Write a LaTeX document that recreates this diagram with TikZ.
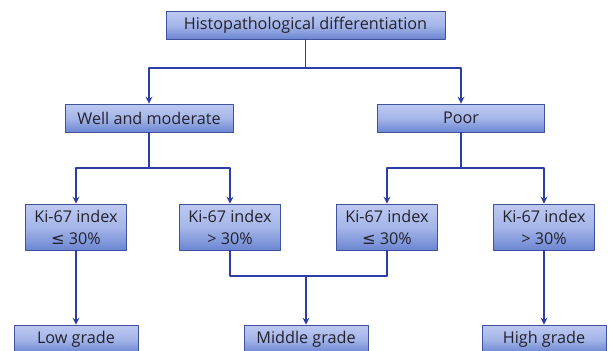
\documentclass[tikz,border=0pt]{standalone}
\usepackage{fontspec}
\setmainfont{Open Sans}
\newfontfamily\symfont{DejaVu Sans}
\usetikzlibrary{arrows.meta}
\definecolor{lineblue}{RGB}{42,62,165}
\definecolor{edgeblue}{RGB}{62,82,158}
\definecolor{boxtop}{RGB}{190,201,241}
\definecolor{boxmid}{RGB}{165,182,233}
\definecolor{boxbot}{RGB}{108,134,210}
\definecolor{textgray}{RGB}{35,35,45}
\newcommand{\lesym}{{\symfont\char"2264}}
\begin{document}
\begin{tikzpicture}[x=1pt, y=-1pt, line join=round, >={Stealth[length=7pt,width=7pt,inset=2.5pt]},
		box/.style={draw=edgeblue, line width=0.8pt, top color=boxtop, bottom color=boxbot, middle color=boxmid, text=textgray, font=\fontsize{16.2}{22}\selectfont, minimum height=28pt, inner sep=0pt},
		kibox/.style={box, minimum height=46pt, minimum width=101pt, align=center},
		link/.style={draw=lineblue, line width=1.8pt}]
			\useasboundingbox (0,0) rectangle (611,351);
			\def\ysplit{68}\def\ysub{168}\def\ymerge{276}
			% tree of boxes
			\node[box, minimum width=279pt] (hist) at (305.5,25) {Histopathological differentiation};
			\node[box, minimum width=168pt] (wm) at (149,118) {Well and moderate};
			\node[box, minimum width=167pt] (poor) at (461,118) {Poor};
			\node[kibox] (ki1) at (76,227) {Ki-67 index\\\lesym{} 30\%};
			\node[kibox] (ki2) at (230,227) {Ki-67 index\\> 30\%};
			\node[kibox] (ki3) at (387,227) {Ki-67 index\\\lesym{} 30\%};
			\node[kibox] (ki4) at (544,227) {Ki-67 index\\> 30\%};
			\node[box, minimum width=124pt] (low) at (76,339) {Low grade};
			\node[box, minimum width=124pt] (mid) at (306,339) {Middle grade};
			\node[box, minimum width=124pt] (high) at (544,339) {High grade};
			\coordinate (merge) at (306,\ymerge);
			% connectors
			\draw[link,->] (hist.south) |- (wm.north |- 0,\ysplit) -- (wm.north);
			\draw[link,->] (hist.south) |- (poor.north |- 0,\ysplit) -- (poor.north);
			\draw[link,->] (wm.south) |- (ki1.north |- 0,\ysub) -- (ki1.north);
			\draw[link,->] (wm.south) |- (ki2.north |- 0,\ysub) -- (ki2.north);
			\draw[link,->] (poor.south) |- (ki3.north |- 0,\ysub) -- (ki3.north);
			\draw[link,->] (poor.south) |- (ki4.north |- 0,\ysub) -- (ki4.north);
			\draw[link,->] (ki1.south) -- (low.north);
			\draw[link] (ki2.south) |- (merge) -| (ki3.south);
			\draw[link,->] (merge) -- (mid.north);
			\draw[link,->] (ki4.south) -- (high.north);
		\end{tikzpicture}
\end{document}
